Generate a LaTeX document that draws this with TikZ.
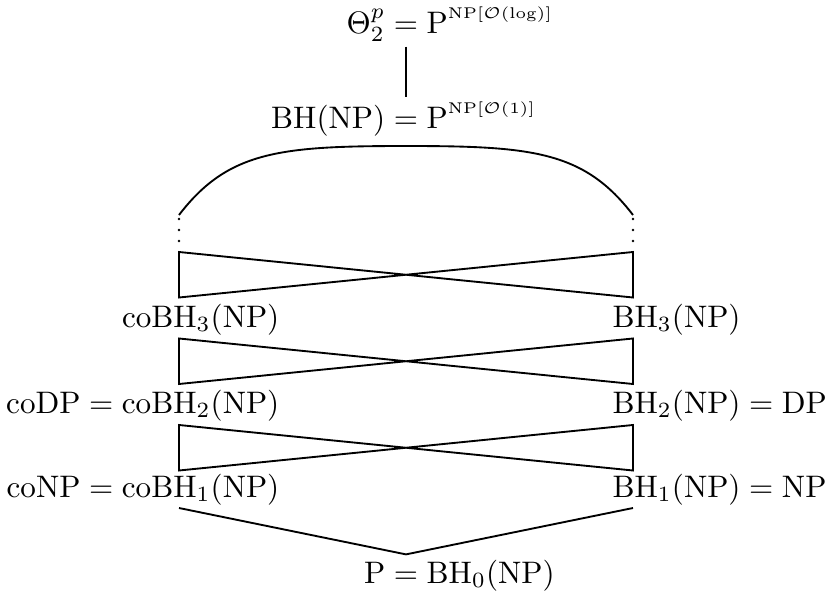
\documentclass[tikz,border=0pt]{standalone}
\usepackage{amsmath}
\usepackage{amssymb}
\usepackage{mathtools}
\usepackage{tikz}

\tikzset{
  cls/.style={inner sep=1.5pt, anchor=base},
  lbl/.style={inner sep=0pt},
  edge/.style={line width=0.6pt},
}

\begin{document}
\begin{tikzpicture}[x=0.3215pt, y=-0.3215pt]
    \useasboundingbox (0,0) rectangle (825,594);

    % classes on the middle axis, aligned on the equals sign
    \node[cls] (theta) at (406,33) {$\mathllap{\Theta_2^p} = \mathrlap{\mathrm{P}^{\raisebox{1pt}{$\scriptscriptstyle\mathrm{NP}[\mathcal{O}(\log)]$}}}$};
    \node[cls] (bh) at (406,128) {$\mathllap{\mathrm{BH}(\mathrm{NP})} = \mathrlap{\mathrm{P}^{\raisebox{1pt}{$\scriptscriptstyle\mathrm{NP}[\mathcal{O}(1)]$}}}$};
    \node[cls] (p) at (406,583) {$\mathllap{\mathrm{P}} = \mathrlap{\mathrm{BH}_0(\mathrm{NP})}$};

    % the levels of the hierarchy
    \node[lbl, anchor=base east] (cobh3) at (280,327) {$\mathrm{coBH}_3(\mathrm{NP})$};
    \node[lbl, anchor=base west] (bh3) at (612,327) {$\mathrm{BH}_3(\mathrm{NP})$};
    \node[lbl, anchor=base east] (cobh2) at (280,413) {$\mathrm{coDP} = \mathrm{coBH}_2(\mathrm{NP})$};
    \node[lbl, anchor=base west] (bh2) at (612,413) {$\mathrm{BH}_2(\mathrm{NP}) = \mathrm{DP}$};
    \node[lbl, anchor=base east] (cobh1) at (280,497) {$\mathrm{coNP} = \mathrm{coBH}_1(\mathrm{NP})$};
    \node[lbl, anchor=base west] (bh1) at (612,497) {$\mathrm{BH}_1(\mathrm{NP}) = \mathrm{NP}$};

    % corners of the crossings
    \coordinate (al) at (179,215);
    \coordinate (ar) at (633,215);
    \coordinate (atop) at (406,146);
    \coordinate (lct) at (179,252);
    \coordinate (lcb) at (179,297.5);
    \coordinate (rct) at (633,252);
    \coordinate (rcb) at (633,297.5);
    \coordinate (lbt) at (179,338.5);
    \coordinate (lbb) at (179,384);
    \coordinate (rbt) at (633,338.5);
    \coordinate (rbb) at (633,384);
    \coordinate (lat) at (179,425);
    \coordinate (lab) at (179,470.5);
    \coordinate (rat) at (633,425);
    \coordinate (rab) at (633,470.5);
    \coordinate (l0) at (179,508);
    \coordinate (r0) at (633,508);

    % dots for the higher levels
    \foreach \y in {219,230,241} {
        \fill (179,\y) circle (0.45pt);
        \fill (633,\y) circle (0.45pt);
    }

    \draw[edge, line width=0.75pt] (theta.south) -- (bh.north);
    \draw[edge] (al) .. controls (228,151) and (280,146) .. (atop)
        .. controls (532,146) and (584,151) .. (ar);

    \draw[edge] (lct) -- (rcb) -- (rct) -- (lcb) -- cycle;
    \draw[edge] (lbt) -- (rbb) -- (rbt) -- (lbb) -- cycle;
    \draw[edge] (lat) -- (rab) -- (rat) -- (lab) -- cycle;

    \draw[edge] (l0) -- (p.north) -- (r0);
\end{tikzpicture}
\end{document}
